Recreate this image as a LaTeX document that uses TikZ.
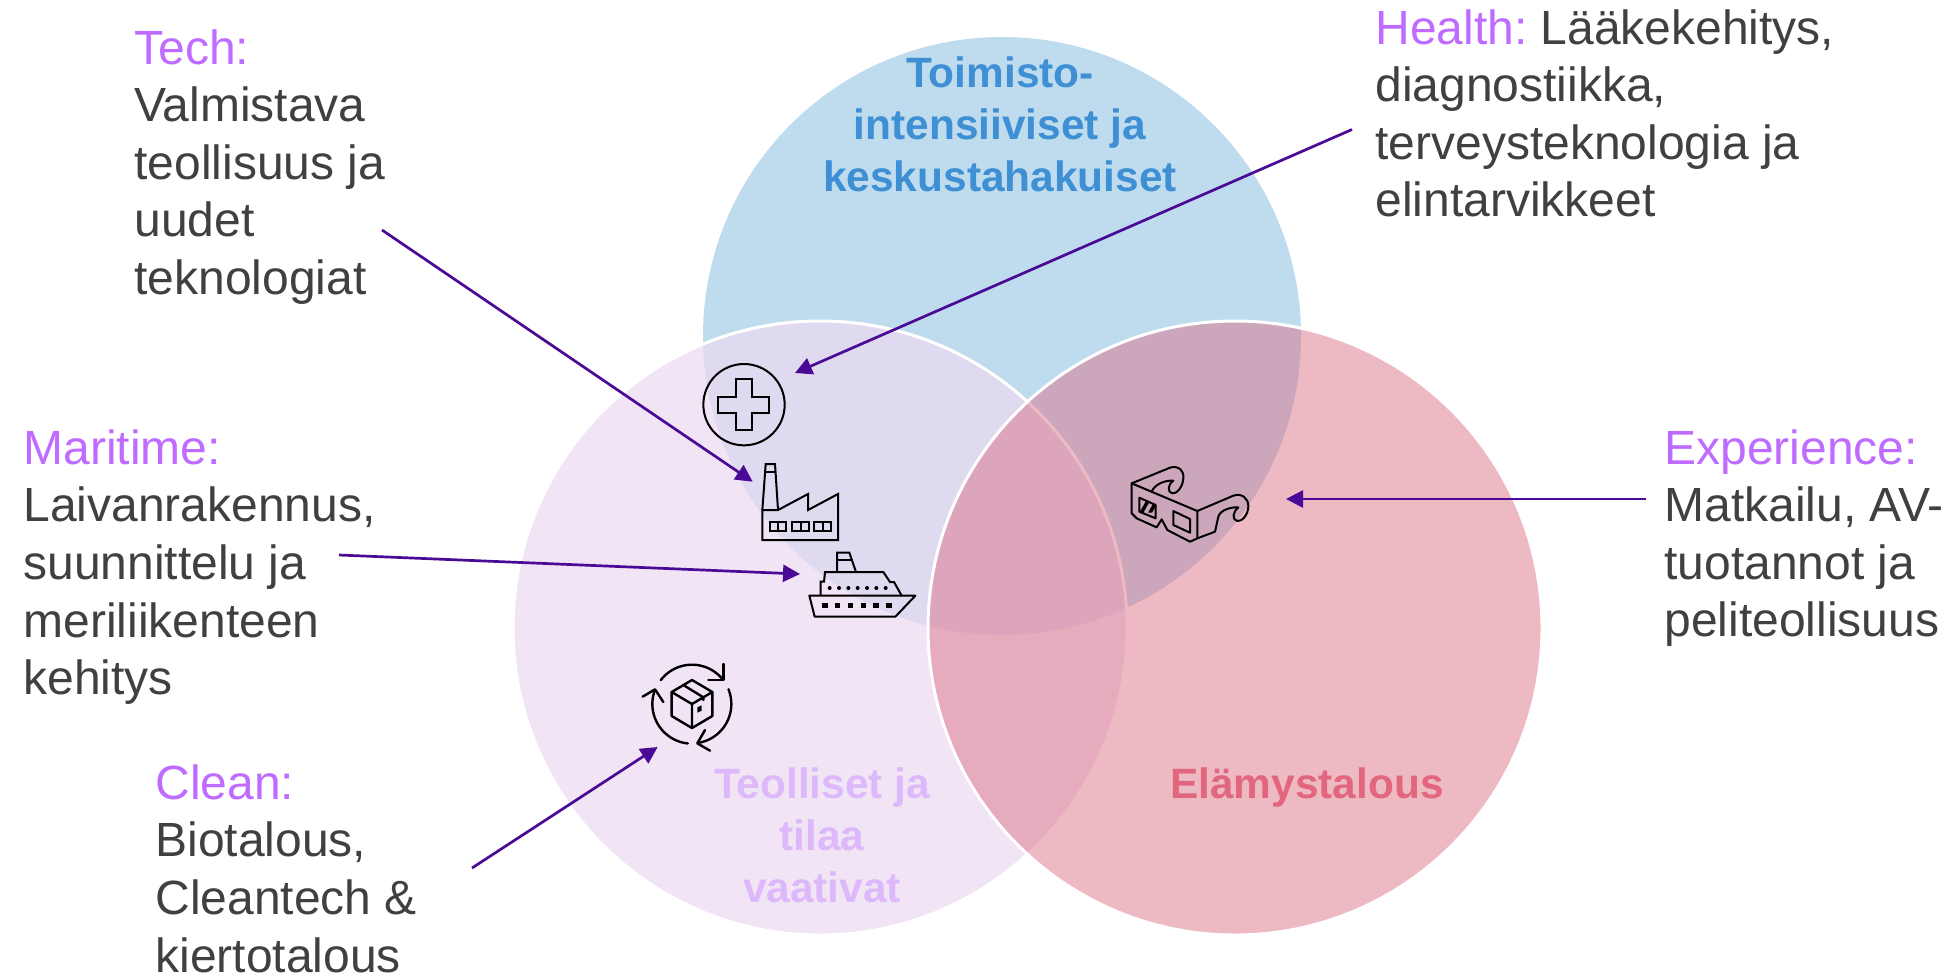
\documentclass[tikz,border=0pt]{standalone}
\usepackage{fontspec}
\setmainfont{Liberation Sans}
\usetikzlibrary{arrows.meta}
\definecolor{cblue}{HTML}{BFDBEE}
\definecolor{cpurple}{HTML}{ECDAF2}
\definecolor{cpink}{HTML}{DB6D82}
\definecolor{tblue}{HTML}{3E8FD4}
\definecolor{tpurple}{HTML}{DDB8FA}
\definecolor{tpink}{HTML}{E2667D}
\definecolor{lab}{HTML}{BF6BFF}
\definecolor{dark}{HTML}{404040}
\definecolor{arr}{HTML}{4B0A96}
\frenchspacing
\tikzset{
  body/.style={anchor=north west,inner sep=0pt,align=left,text=dark,font=\fontsize{24}{28.8}\selectfont},
  ttl/.style={inner sep=0pt,align=center,font=\bfseries\fontsize{21.2}{26}\selectfont},
  conn/.style={draw=arr,line width=1.35pt,-{Triangle[length=8.5pt,width=8.5pt]}},
  ico/.style={line width=1pt,black,line join=miter},
  zoomscope/.style={x=0.16667pt,y=-0.16667pt}
}
\begin{document}
\begin{tikzpicture}[x=0.5pt,y=-0.5pt]
\useasboundingbox (0,0) rectangle (1952,976);
\fill[white] (0,0) rectangle (1952,976);
% circles
\fill[cblue] (1002,336) circle[radius=299];
\path[fill=cpurple,fill opacity=.73,draw=white,line width=1.5pt] (820,628) circle[radius=307];
\path[fill=cpink,fill opacity=.48,draw=white,line width=1.5pt] (1235,628) circle[radius=307];
% titles
\node[ttl,text=tblue,anchor=north] (blue) at (1000,56) {Toimisto-\\intensiiviset ja\\keskustahakuiset};
\node[ttl,text=tpurple,anchor=north] (purple) at (822,767) {Teolliset ja\\tilaa\\vaativat};
\node[ttl,text=tpink,anchor=north] (pink) at (1307,767) {Elämystalous};
% labels
\node[body] (tech) at (134,29) {\textcolor{lab}{Tech:}\\Valmistava\\teollisuus ja\\uudet\\teknologiat};
\node[body] (health) at (1375,9) {\textcolor{lab}{Health:} Lääkekehitys,\\diagnostiikka,\\terveysteknologia ja\\elintarvikkeet};
\node[body] (maritime) at (23,429) {\textcolor{lab}{Maritime:}\\Laivanrakennus,\\suunnittelu ja\\meriliikenteen\\kehitys};
\node[body] (experience) at (1664,429) {\textcolor{lab}{Experience:}\\Matkailu, AV-\\tuotannot ja\\peliteollisuus};
\node[body] (clean) at (155,764) {\textcolor{lab}{Clean:}\\Biotalous,\\Cleantech \&\\kiertotalous};
% connector ends
\coordinate (techS) at (382,230);
\coordinate (techE) at (752.7,481.7);
\coordinate (healthS) at (1352,129.5);
\coordinate (healthE) at (795,373);
\coordinate (marS) at (339,555);
\coordinate (marE) at (800,574);
\coordinate (cleanS) at (472,868);
\coordinate (cleanE) at (657.7,747);
\coordinate (expS) at (1646,499);
\coordinate (expE) at (1286,499);
\draw[conn] (techS) -- (techE);
\draw[conn] (healthS) -- (healthE);
\draw[conn] (marS) -- (marE);
\draw[conn] (cleanS) -- (cleanE);
\draw[conn] (expS) -- (expE);
% health, factory, ship icons
\begin{scope}[shift={(680,340)},zoomscope,ico]
  \draw (192,194) circle[radius=122];
  \draw (168,118)--(216,118)--(216,171)--(268,171)--(268,218)--(216,218)--(216,270)--(168,270)--(168,218)--(115,218)--(115,171)--(168,171)--cycle;
  % factory
  \draw (247,510)--(247,600)--(474,600)--(474,462)--(384,510)--(384,462)--(294,510)--cycle;
  \draw (247,510)--(257,372)--(285,372)--(294,510);
  \draw (255,395)--(287,395);
  \foreach \a in {270,337,403}{
    \draw (\a,546) rectangle ++(49,27);
    \draw (\a+25,546)--(\a+25,573);
  }
  % ship
  \draw[line join=round] (388,767)--(706,767)--(646,830)--(404,830)--cycle;
  \draw (422,767)--(422,725)--(432,725)--(435,696)--(610,696)--(630,726)--(642,726)--(665,767);
  \draw (471,696)--(471,638)--(508,638)--(528,696);
  \draw (471,660)--(516,660);
  \foreach \a in {449,477,505,533,561,589,617} \fill (\a,744) circle[radius=6];
  \foreach \a in {435,473,511,550,588,627} \fill (\a-8,789) rectangle ++(16,16);
\end{scope}
% box icon
\begin{scope}[shift={(620,640)},zoomscope,ico,line width=1.2pt,line cap=round]
  \draw[line join=round] (216,120)--(277,156)--(277,228)--(216,264)--(155,228)--(155,156)--cycle;
  \draw[line join=round] (155,156)--(216,192)--(277,156) (216,192)--(216,264);
  \draw (190,135)--(250,172)--(250,180);
  \fill (232,202)--(245,196)--(245,212)--(232,218)--cycle;
  \draw plot[smooth,domain=-142.5:-38,samples=24] ({216+118*cos(\x)},{192+118*sin(\x)});
  \draw[line join=round] (310,72)--(310,120)--(265,120);
  \draw plot[smooth,domain=-22:82,samples=24] ({216+118*cos(\x)},{192+118*sin(\x)});
  \draw[line join=round] (255,270)--(232,310)--(270,332);
  \draw plot[smooth,domain=96:201,samples=24] ({216+119*cos(\x)},{192+119*sin(\x)});
  \draw[line join=round] (68,170)--(105,148)--(130,186);
\end{scope}
% glasses icon
\begin{scope}[shift={(1110,450)},zoomscope,ico,line join=round]
  \draw (65,100)--(262,183)--(262,265)--(240,275)--(172,240)--(155,208)--(140,232)--(80,205)--(65,190)--cycle;
  \draw (65,100)--(180,53) .. controls (205,45) and (222,60) .. (220,85) .. controls (218,112) and (200,132) .. (187,130) .. controls (172,127) and (172,105) .. (190,92) .. controls (170,90) and (135,100) .. (125,125);
  \draw (262,183)--(370,137) .. controls (395,128) and (415,145) .. (415,168) .. controls (415,195) and (395,215) .. (382,213) .. controls (365,210) and (368,185) .. (385,172) .. controls (365,170) and (330,180) .. (325,200)--(315,245)--(262,265);
  \draw (190,183)--(240,207)--(240,248)--(190,225)--cycle;
  \draw (88,143)--(137,165)--(137,205)--(88,185)--cycle;
  \begin{scope}
    \clip (88,143)--(137,165)--(137,205)--(88,185)--cycle;
    \foreach \a in {0,26,52,78}{
      \fill (88+\a,188)--(100+\a,188)--(80+\a+50,135)--(68+\a+50,135)--cycle;
    }
  \end{scope}
\end{scope}
\end{tikzpicture}
\end{document}
